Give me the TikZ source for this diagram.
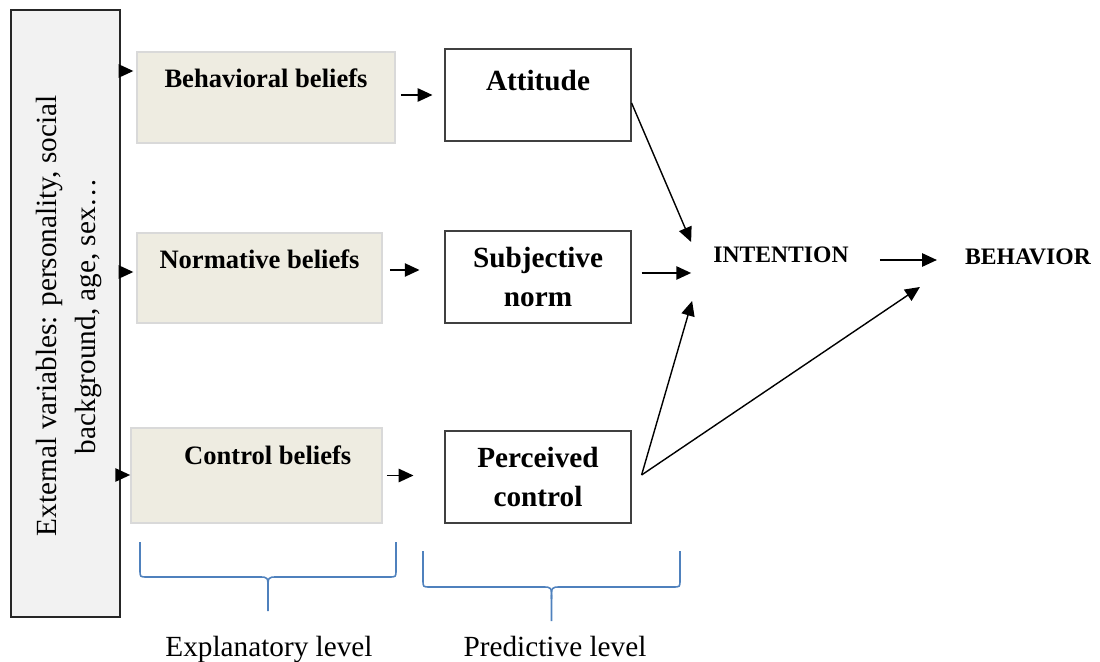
\documentclass[tikz,border=0pt]{standalone}
\usepackage{fontspec}
\setmainfont{Liberation Serif}
\usetikzlibrary{arrows.meta}

\definecolor{beliefgray}{HTML}{EEECE1}
\definecolor{beliefline}{HTML}{D9D9D9}
\definecolor{extgray}{HTML}{F2F2F2}
\definecolor{braceblue}{HTML}{4F81BD}

\newcommand{\levelbrace}[4]{
	\pgfmathsetmacro{\LBxa}{#1}
	\pgfmathsetmacro{\LBxb}{#2}
	\pgfmathsetmacro{\LBxm}{(#1+#2)/2}
	\pgfmathsetmacro{\LBya}{#3}
	\pgfmathsetmacro{\LByb}{#4}
	\pgfmathsetmacro{\LByc}{#4+34}
	\draw[bracepen] (\LBxa,\LBya) -- (\LBxa,\LByb-7) .. controls (\LBxa,\LByb) .. (\LBxa+7,\LByb) -- (\LBxm-9,\LByb) .. controls (\LBxm,\LByb) .. (\LBxm,\LByb+12) -- (\LBxm,\LByc);
	\draw[bracepen] (\LBxb,\LBya) -- (\LBxb,\LByb-7) .. controls (\LBxb,\LByb) .. (\LBxb-7,\LByb) -- (\LBxm+9,\LByb) .. controls (\LBxm,\LByb) .. (\LBxm,\LByb+12);
}

\tikzset{
	arr/.style={-{Triangle[length=10.5pt,width=9.5pt]}, line width=1pt},
	extbox/.style={draw=black!85, fill=extgray, line width=1pt, minimum width=2.725cm, minimum height=15.175cm},
	beliefbox/.style={draw=beliefline, fill=beliefgray, line width=1.2pt, inner sep=0pt, text height=0.9cm, font=\bfseries\fontsize{18.9}{22}\selectfont},
	predbox/.style={draw=black!75, fill=white, line width=0.8pt, minimum width=4.65cm, minimum height=2.3cm, align=center, font=\bfseries\fontsize{20.8}{27.6}\selectfont},
	outcome/.style={inner sep=0pt, font=\bfseries\fontsize{16.8}{20}\selectfont},
	levellabel/.style={anchor=base, font=\fontsize{20.8}{25}\selectfont},
	bracepen/.style={draw=braceblue, line width=1.1pt},
}

\begin{document}
\begin{tikzpicture}[x=0.025cm, y=-0.025cm]
\useasboundingbox (0,0) rectangle (1100,662);

\pgfmathsetmacro{\colMid}{538}

\node[extbox] (ext) at (65.5,313.5) {};
\node[rotate=90, align=center, font=\fontsize{20.8}{27.5}\selectfont] (extlab) at ([shift={(3.5,2.5)}]ext.center) {External variables: personality, social\\background, age, sex…};

\node[beliefbox, minimum width=6.45cm, text depth=1.375cm] (bb) at (266,97.5) {Behavioral beliefs};
\node[beliefbox, minimum width=6.125cm, text depth=1.35cm] (nb) at (259.5,278) {Normative beliefs};
\node[beliefbox, minimum width=6.275cm, text height=0.92cm, text depth=1.455cm] (cb) at (256.5,475.5) {\hspace{16pt}Control beliefs};

\node[predbox, inner ysep=0pt, text height=1.04cm, text depth=1.26cm] (att) at (\colMid,95) {Attitude};
\node[predbox] (sn) at (\colMid,277) {Subjective\\norm};
\node[predbox] (pc) at (\colMid,477) {Perceived\\control};

\node[outcome] (int) at (781,255) {INTENTION};
\node[outcome] (beh) at (1028,257) {BEHAVIOR};

\draw[arr, shorten >=2pt] (ext.east |- 0,71) -- (bb.west |- 0,71);
\draw[arr, shorten >=2pt] (ext.east |- 0,272) -- (nb.west |- 0,272);
\draw[arr] (ext.east |- 0,475) -- (cb.west |- 0,475);

\draw[arr, shorten <=3.5pt, shorten >=8.5pt] (att.west -| bb.east) -- (att.west);
\draw[arr, shorten <=5pt, shorten >=17.7pt] (nb.east |- 0,270) -- (sn.west |- 0,270);
\draw[arr, shorten <=2.8pt, shorten >=22pt] (cb.east) -- (cb.east -| pc.west);

\coordinate (pcout) at ([shift={(10,-2)}]pc.east);
\draw[arr] ([shift={(0,8)}]att.east) -- ([shift={(-22,-13)}]int.west);
\draw[arr] ([shift={(10,-4)}]sn.east) -- ([shift={(-22,18)}]int.west);
\draw[arr] (pcout) -- ([shift={(-21,46)}]int.west);
\draw[arr] (pcout) -- ([shift={(-45,30)}]beh.west);
\draw[arr] ([shift={(31,5)}]int.east) -- ([shift={(-28,3)}]beh.west);

\levelbrace{140}{396}{542}{577}
\levelbrace{423}{680}{551}{587}

\node[levellabel] (explab) at (269,656) {Explanatory level};
\node[levellabel] (predlab) at (555,656) {Predictive level};
\end{tikzpicture}
\end{document}
